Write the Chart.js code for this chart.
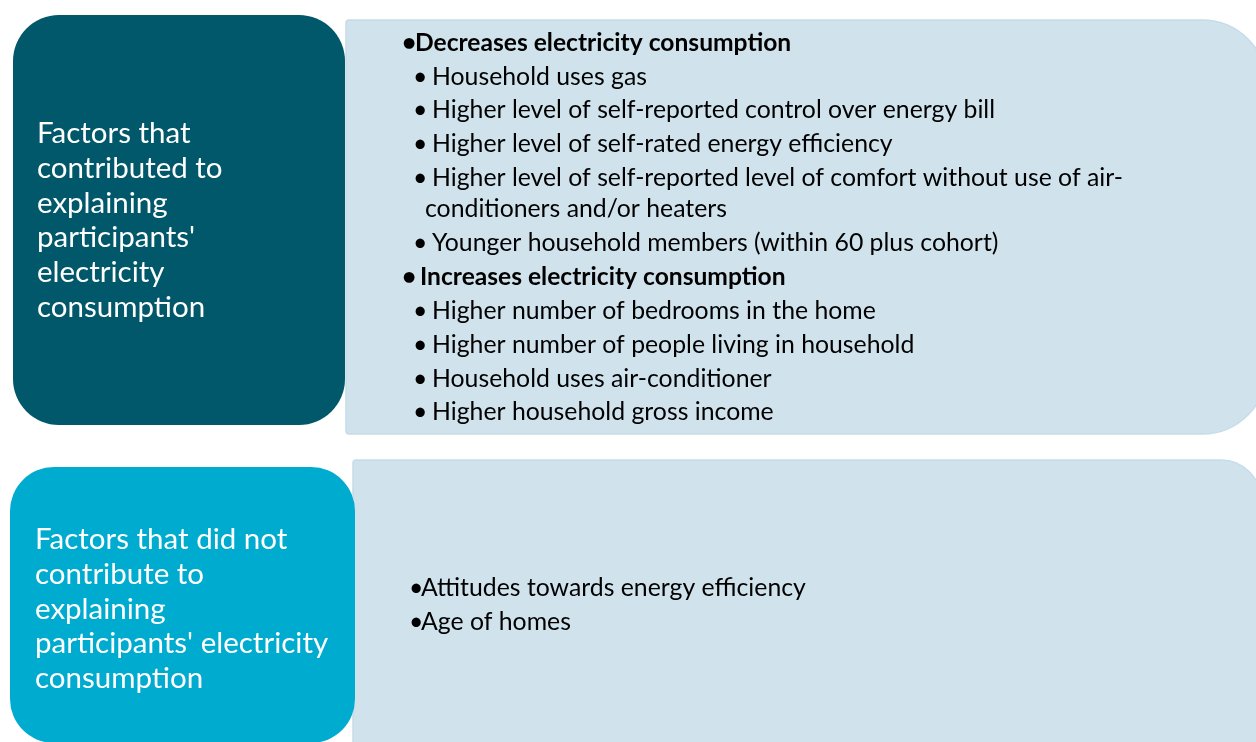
<!DOCTYPE html>
<html>
<head>
<meta charset="utf-8">
<script src="https://cdn.jsdelivr.net/npm/chart.js@4.4.1/dist/chart.umd.min.js"></script>
<style>
html,body{margin:0;padding:0;background:#ffffff;}
#wrap{width:1256px;height:742px;}
</style>
</head>
<body>
<div id="wrap"><canvas id="c" width="1256" height="742"></canvas></div>
<script>
// ---- content ----
const contributedTitle = ["Factors that", "contributed to", "explaining", "participants'", "electricity", "consumption"];
const notContributedTitle = ["Factors that did not", "contribute to", "explaining", "participants' electricity", "consumption"];
const decreaseHeading = "Decreases electricity consumption";
const decreaseFactors = [
  ["Household uses gas"],
  ["Higher level of self-reported control over energy bill"],
  ["Higher level of self-rated energy efficiency"],
  ["Higher level of self-reported level of comfort without use of air-", "conditioners and/or heaters"],
  ["Younger household members (within 60 plus cohort)"]
];
const increaseHeading = "Increases electricity consumption";
const increaseFactors = [
  ["Higher number of bedrooms in the home"],
  ["Higher number of people living in household"],
  ["Household uses air-conditioner"],
  ["Higher household gross income"]
];
const nonFactors = ["Attitudes towards energy efficiency", "Age of homes"];

// ---- styles ----
const C_DARK = "#01586a";
const C_CYAN = "#00abd0";
const C_LIGHT = "#d0e3ed";
const C_LIGHT_EDGE = "#c6dce8";
const FONT = "Lato, 'Open Sans', sans-serif";

const diagramPlugin = {
  id: "diagram",
  beforeDatasetsDraw(chart) {
    const ctx = chart.ctx;
    const sx = chart.scales.x, sy = chart.scales.y;
    const X = v => sx.getPixelForValue(v);
    const Y = v => sy.getPixelForValue(v);
    function box(x0, y0, x1, y1, r, fill, stroke) {
      ctx.save();
      ctx.beginPath();
      ctx.roundRect(X(x0), Y(y0), X(x1) - X(x0), Y(y1) - Y(y0), r);
      ctx.fillStyle = fill;
      ctx.fill();
      if (stroke) { ctx.lineWidth = 1.5; ctx.strokeStyle = stroke; ctx.stroke(); }
      ctx.restore();
    }
    // light panels
    box(346, 20, 1267, 434, [3, 65, 65, 3], C_LIGHT, C_LIGHT_EDGE);
    box(353, 460, 1261, 800, [3, 40, 0, 0], C_LIGHT, C_LIGHT_EDGE);
    // coloured title boxes
    box(13, 15, 345, 425, 46, C_DARK, null);
    box(10, 467, 355, 743, 44, C_CYAN, null);

    ctx.save();
    ctx.textBaseline = "alphabetic";
    ctx.textAlign = "left";
    // left titles
    ctx.fillStyle = "#ffffff";
    ctx.font = "29.5px " + FONT;
    contributedTitle.forEach((t, i) => ctx.fillText(t, X(37), Y(143 + i * 34.8)));
    notContributedTitle.forEach((t, i) => ctx.fillText(t, X(35), Y(549 + i * 34.8)));

    // right bullet lists
    ctx.fillStyle = "#000000";
    const small = "24.8px " + FONT, bold = "bold 24.6px " + FONT;
    const rows = [];
    rows.push({t: decreaseHeading, bold: true, bx: 402, tx: 415});
    decreaseFactors.forEach(f => f.forEach((l, j) => rows.push({t: l, bx: j === 0 ? 413 : null, tx: j === 0 ? 432 : 425})));
    rows.push({t: increaseHeading, bold: true, bx: 402, tx: 420});
    increaseFactors.forEach(f => f.forEach((l, j) => rows.push({t: l, bx: j === 0 ? 413 : null, tx: j === 0 ? 432 : 425})));
    const baselines = [50.5, 84.5, 117.5, 151.5, 185.5, 216.5, 250.5, 284.5, 318.5, 352.5, 386.5, 419.5];
    rows.forEach((r, i) => {
      const y = Y(baselines[i]);
      ctx.font = r.bold ? bold : small;
      if (r.bx !== null) ctx.fillText("\u2022", X(r.bx), y);
      ctx.fillText(r.t, X(r.tx), y);
    });
    ctx.font = small;
    nonFactors.forEach((t, i) => {
      const y = Y(596 + i * 34);
      ctx.fillText("\u2022", X(409), y);
      ctx.fillText(t, X(421), y);
    });
    ctx.restore();
  }
};

new Chart(document.getElementById("c"), {
  type: "scatter",
  data: { datasets: [{ data: [], pointRadius: 0 }] },
  options: {
    responsive: false,
    devicePixelRatio: 1,
    animation: false,
    layout: { padding: 0 },
    plugins: { legend: { display: false }, tooltip: { enabled: false } },
    scales: {
      x: { type: "linear", min: 0, max: 1256, display: false },
      y: { type: "linear", min: 0, max: 742, reverse: true, display: false }
    }
  },
  plugins: [diagramPlugin]
});
</script>
</body>
</html>
